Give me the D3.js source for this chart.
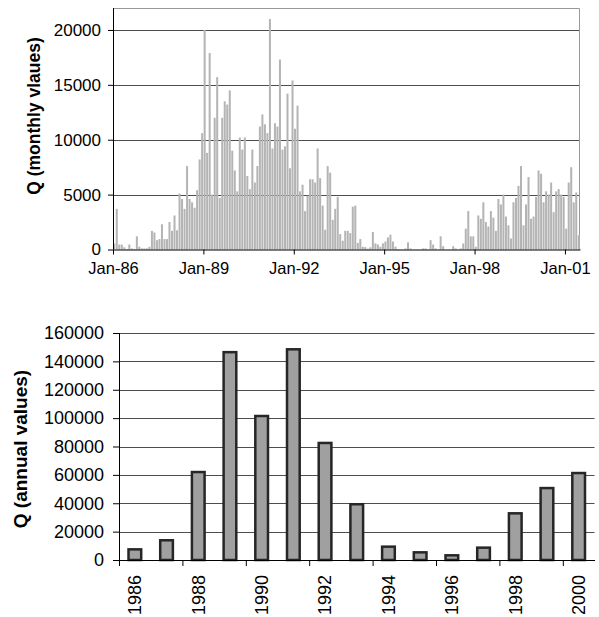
<!DOCTYPE html>
<html>
<head>
<meta charset="utf-8">
<script src="https://cdn.jsdelivr.net/npm/d3@7"></script>
<style>
  html, body { margin: 0; padding: 0; background: #fff; }
  text { font-family: "Liberation Sans", Arial, sans-serif; fill: #000; }
</style>
</head>
<body>
<div id="chart"></div>
<script>
// Monthly discharge Q, Jan-1986 .. Jun-2001 (one row per year)
const monthlyQ = [
  550, 3700, 450, 450, 200, 50, 450, 100, 50, 1200, 250, 100,            // 1986
  100, 100, 250, 1700, 1550, 850, 950, 2300, 950, 950, 2500, 1700,       // 1987
  3100, 1750, 5100, 4600, 3700, 7600, 4600, 4300, 3800, 5400, 8200, 10600, // 1988
  20000, 8800, 17900, 5000, 12000, 15700, 4700, 12000, 13500, 13200, 14500, 9000, // 1989
  7200, 5300, 10200, 9100, 10200, 6700, 5500, 9100, 6100, 7600, 11200, 12300, // 1990
  11400, 10600, 21000, 9200, 11500, 11200, 17300, 9100, 9400, 14200, 7400, 15400, // 1991
  11000, 13100, 5300, 5900, 3500, 4900, 6400, 6400, 6100, 9200, 6500, 4000, // 1992
  1800, 7600, 7000, 2700, 3700, 4800, 1400, 800, 1700, 1700, 1500, 3900, // 1993
  4000, 600, 950, 250, 220, 80, 200, 1600, 560, 460, 250, 560,           // 1994
  730, 1100, 1350, 730, 260, 50, 0, 0, 100, 650, 100, 0,                 // 1995
  0, 0, 0, 100, 100, 0, 850, 450, 100, 0, 1200, 300,                     // 1996
  0, 0, 0, 300, 100, 0, 100, 550, 1900, 3500, 1200, 1200,                // 1997
  250, 3100, 2800, 4300, 2500, 2100, 3500, 2900, 1700, 4600, 4100, 5000, // 1998
  3000, 2200, 1000, 4300, 4700, 5800, 7600, 2200, 4100, 6600, 2800, 3000, // 1999
  4800, 7200, 6900, 4300, 5300, 5000, 6100, 3400, 5300, 5500, 5000, 4800, // 2000
  1900, 6100, 7500, 4300, 5200, 1300                                     // 2001
];
const monthTickIndex = [0, 36, 72, 108, 144, 180];
const monthTickLabels = ["Jan-86", "Jan-89", "Jan-92", "Jan-95", "Jan-98", "Jan-01"];
const monthlyYTicks = [0, 5000, 10000, 15000, 20000];

// Annual discharge Q
const years = [1986, 1987, 1988, 1989, 1990, 1991, 1992, 1993, 1994, 1995, 1996, 1997, 1998, 1999, 2000];
const annualQ = [7500, 13900, 62000, 146500, 101500, 148500, 82500, 39300, 9400, 5400, 3300, 8700, 32900, 50700, 61300];
const annualYTicks = [0, 20000, 40000, 60000, 80000, 100000, 120000, 140000, 160000];
const yearLabels = [1986, 1988, 1990, 1992, 1994, 1996, 1998, 2000];

const W = 599, H = 617;
const svg = d3.select("#chart").append("svg")
  .attr("width", W).attr("height", H);
svg.append("rect").attr("width", W).attr("height", H).attr("fill", "#fff");

// ---------- monthly panel ----------
const p1 = { l: 113, r: 580, t: 8, b: 249.5 };
const y1 = d3.scaleLinear().domain([0, 22000]).range([p1.b, p1.t]);
const x1 = d3.scaleBand().domain(d3.range(monthlyQ.length))
  .range([p1.l, p1.r]).paddingInner(0.2).paddingOuter(0.1);
const x1Lin = d3.scaleLinear().domain([0, monthlyQ.length]).range([p1.l, p1.r]);

const g1 = svg.append("g");
g1.selectAll("line.grid").data(monthlyYTicks.filter(d => d > 0)).join("line")
  .attr("x1", p1.l).attr("x2", p1.r)
  .attr("y1", d => Math.round(y1(d)) + 0.5).attr("y2", d => Math.round(y1(d)) + 0.5)
  .attr("stroke", "#4d4d4d").attr("stroke-width", 1);
// plot area frame (top and right)
g1.append("path")
  .attr("d", `M${p1.l},${p1.t + 0.5}H${p1.r - 0.5}V${p1.b}`)
  .attr("fill", "none").attr("stroke", "#999").attr("stroke-width", 1);

g1.selectAll("rect.bar").data(monthlyQ).join("rect")
  .attr("x", (d, i) => x1(i))
  .attr("width", x1.bandwidth())
  .attr("y", d => y1(d))
  .attr("height", d => y1(0) - y1(d))
  .attr("fill", "#b4b4b4");

const ax1 = g1.append("g").attr("transform", `translate(${p1.l},0)`)
  .call(d3.axisLeft(y1).tickValues(monthlyYTicks).tickSize(5).tickSizeOuter(0)
    .tickPadding(7).tickFormat(d3.format("d")));
ax1.select(".domain").attr("d", `M0.5,${p1.t}V${p1.b}`).attr("stroke", "#000");
ax1.selectAll(".tick line").attr("stroke", "#000");
ax1.selectAll("text").attr("font-size", 17);

const bx1 = g1.append("g").attr("transform", `translate(0,${p1.b})`)
  .call(d3.axisBottom(x1Lin).tickValues(monthTickIndex).tickSize(5).tickSizeOuter(0)
    .tickPadding(8).tickFormat((d, i) => monthTickLabels[i]));
bx1.select(".domain").attr("stroke", "#000");
bx1.selectAll(".tick line").attr("stroke", "#000");
bx1.selectAll("text").attr("font-size", 16.5);

svg.append("text")
  .attr("transform", "translate(40,116) rotate(-90)")
  .attr("text-anchor", "middle").attr("font-weight", "bold").attr("font-size", 17.5)
  .text("Q (monthly vlaues)");

// ---------- annual panel ----------
const p2 = { l: 119, r: 594.5, t: 333, b: 560 };
const y2 = d3.scaleLinear().domain([0, 160000]).range([p2.b, p2.t]);
const x2 = d3.scaleBand().domain(years).range([p2.l, p2.r]).paddingInner(0.6).paddingOuter(0.3);
const x2Lin = d3.scaleLinear().domain([0, years.length]).range([p2.l, p2.r]);

const g2 = svg.append("g");
g2.selectAll("line.grid").data(annualYTicks.filter(d => d > 0)).join("line")
  .attr("x1", p2.l).attr("x2", p2.r)
  .attr("y1", d => Math.round(y2(d)) + 0.5).attr("y2", d => Math.round(y2(d)) + 0.5)
  .attr("stroke", "#4d4d4d").attr("stroke-width", 1);

g2.selectAll("rect.bar").data(years).join("rect")
  .attr("x", d => x2(d))
  .attr("width", x2.bandwidth())
  .attr("y", (d, i) => y2(annualQ[i]))
  .attr("height", (d, i) => y2(0) - y2(annualQ[i]))
  .attr("fill", "#a0a0a0").attr("stroke", "#262626").attr("stroke-width", 2.5);

const ax2 = g2.append("g").attr("transform", `translate(${p2.l},0)`)
  .call(d3.axisLeft(y2).tickValues(annualYTicks).tickSize(6).tickSizeOuter(0)
    .tickPadding(9).tickFormat(d3.format("d")));
ax2.select(".domain").attr("d", `M0.5,${p2.t}V${p2.b}`).attr("stroke", "#000");
ax2.selectAll(".tick line").attr("stroke", "#000");
ax2.selectAll("text").attr("font-size", 18);

const bx2 = g2.append("g").attr("transform", `translate(0,${p2.b})`)
  .call(d3.axisBottom(x2Lin).tickValues(d3.range(0, years.length, 2)).tickSize(6)
    .tickSizeOuter(0).tickFormat(""));
bx2.select(".domain").attr("stroke", "#000");
bx2.selectAll(".tick line").attr("stroke", "#000");

g2.selectAll("text.year").data(yearLabels).join("text")
  .attr("transform", d => `translate(${x2(d) + x2.bandwidth() / 2},575) rotate(-90)`)
  .attr("text-anchor", "end").attr("dy", "0.35em").attr("font-size", 18)
  .text(d => d);

svg.append("text")
  .attr("transform", "translate(27,449) rotate(-90)")
  .attr("text-anchor", "middle").attr("font-weight", "bold").attr("font-size", 19)
  .text("Q (annual values)");
</script>
</body>
</html>
